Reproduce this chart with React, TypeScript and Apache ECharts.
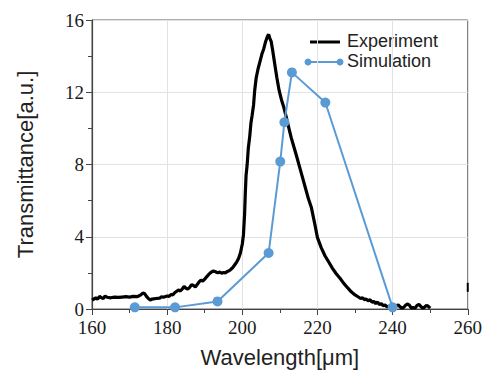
import React, { useEffect, useRef } from "react";
import * as echarts from "echarts";

const expX = [160,160.5,161,161.5,162,162.5,163,163.5,164,165,166,167,168,169,170,171,172,173,173.5,174,174.5,175,175.5,176,177,178,178.5,179,180,180.5,181,181.5,182,183,183.5,184,184.5,185,185.5,186,186.5,187,187.5,188,188.5,189,189.5,190,190.5,191,191.5,192,192.5,193,193.5,194,194.5,195,195.5,196,196.5,197,197.5,198,198.5,199,199.5,200,200.3,200.6,200.8,201,201.3,201.6,202,202.3,202.6,203,203.3,203.7,204.2,204.7,205.2,205.7,206.2,206.7,207,207.3,207.7,208.1,208.6,209.2,209.8,210.4,211,211.6,212.3,213,213.7,214.4,215.2,216,216.8,217.6,218.4,219.2,220,221,222,223,224,225,226,227,228,229,230,231,231.5,232,232.5,233,233.5,234,234.5,235,235.5,236,236.5,237,237.5,238,238.5,239,239.5,240,240.5,241,241.5,242,242.5,243,243.5,244,244.5,245,245.5,246,246.5,247,247.5,248,248.5,249,249.5,250];
const expY = [0.5,0.55,0.62,0.55,0.7,0.62,0.58,0.72,0.65,0.62,0.66,0.64,0.66,0.68,0.66,0.7,0.68,0.78,0.88,0.85,0.7,0.58,0.5,0.55,0.58,0.6,0.68,0.65,0.72,0.7,0.8,0.78,0.9,1.05,1.0,1.1,1.25,1.15,1.1,1.2,1.35,1.3,1.22,1.35,1.5,1.6,1.55,1.65,1.78,1.9,2.0,2.08,2.1,2.05,2.0,2.05,1.98,2.02,2.0,2.08,2.12,2.2,2.3,2.45,2.6,2.8,3.1,3.6,4.1,5.2,6.4,7.4,8.0,8.9,9.6,10.3,10.7,11.3,12.1,12.8,13.3,13.7,14.1,14.4,14.8,15.1,15.2,15.0,14.8,14.3,13.6,12.8,12.1,11.6,11.2,10.7,10.1,9.5,9.0,8.5,7.9,7.3,6.7,6.1,5.6,4.8,3.95,3.4,2.95,2.6,2.25,1.95,1.7,1.42,1.18,0.95,0.78,0.65,0.58,0.62,0.52,0.55,0.45,0.52,0.38,0.42,0.3,0.38,0.25,0.3,0.18,0.22,0.12,0.15,0.05,0.1,0.05,0.18,0.22,0.12,0.05,0.1,0.22,0.28,0.2,0.05,0.08,0.05,0.2,0.25,0.15,0.05,0.1,0.2,0.15,0.05];

const simX = [171.4, 182.1, 193.4, 207.0, 210.1, 211.2, 213.2, 222.1, 240.0];
const simY = [0.09, 0.09, 0.42, 3.1, 8.16, 10.34, 13.1, 11.43, 0.09];

const artifactX = [260, 260];
const artifactY = [0.95, 1.45];

const xTicks = [160, 180, 200, 220, 240, 260];
const yTicks = [0, 4, 8, 12, 16];

const legendNames = ["Experiment", "Simulation"];

const BLUE = "#5B9BD5";
const SANS = "Liberation Sans";
const SERIF = "Liberation Serif";

export default function App() {
  const ref = useRef<HTMLDivElement>(null);
  useEffect(() => {
    document.body.style.margin = "0";
    if (!ref.current) return;
    const chart = echarts.init(ref.current, undefined, { renderer: "svg" });
    const labelStyle = {
      fontFamily: SERIF,
      fontSize: 19,
      color: "#1a1a1a",
    };
    chart.setOption({
      animation: false,
      backgroundColor: "#ffffff",
      grid: {
        left: 92,
        right: 15,
        top: 20,
        bottom: 65,
        show: true,
        borderColor: "#5a5a5a",
        borderWidth: 1,
      },
      xAxis: {
        type: "value",
        min: xTicks[0],
        max: xTicks[xTicks.length - 1],
        interval: 20,
        name: "Wavelength[μm]",
        nameLocation: "middle",
        nameGap: 37,
        nameTextStyle: { fontFamily: SANS, fontSize: 22, color: "#222" },
        axisLine: { show: true, lineStyle: { color: "#444", width: 1.2 } },
        axisTick: { show: true, length: 6, lineStyle: { color: "#444" } },
        minorTick: { show: true, splitNumber: 2, length: 4, lineStyle: { color: "#444" } },
        splitLine: { show: true, lineStyle: { color: "#e2e2e2", width: 1 } },
        axisLabel: { ...labelStyle, margin: 9 },
      },
      yAxis: {
        type: "value",
        min: yTicks[0],
        max: yTicks[yTicks.length - 1],
        interval: 4,
        name: "Transmittance[a.u.]",
        nameLocation: "middle",
        nameGap: 56,
        nameTextStyle: { fontFamily: SANS, fontSize: 22, color: "#222" },
        axisLine: { show: true, lineStyle: { color: "#444", width: 1.2 } },
        axisTick: { show: true, length: 6, lineStyle: { color: "#444" } },
        minorTick: { show: true, splitNumber: 2, length: 4, lineStyle: { color: "#444" } },
        splitLine: { show: true, lineStyle: { color: "#e2e2e2", width: 1 } },
        axisLabel: { ...labelStyle, margin: 8 },
      },
      series: [
        {
          name: legendNames[0],
          type: "line",
          data: expX.map((x, i) => [x, expY[i]]),
          showSymbol: false,
          symbol: "none",
          lineStyle: { color: "#000", width: 3.2 },
          z: 2,
        },
        {
          name: legendNames[1],
          type: "line",
          data: simX.map((x, i) => [x, simY[i]]),
          symbol: "circle",
          symbolSize: 10,
          itemStyle: { color: BLUE },
          lineStyle: { color: BLUE, width: 2 },
          z: 3,
        },
        {
          name: "artifact",
          type: "line",
          data: artifactX.map((x, i) => [x, artifactY[i]]),
          symbol: "none",
          lineStyle: { color: "#000", width: 2 },
          z: 4,
        },
      ],
      graphic: [
        { type: "line", shape: { x1: 310, y1: 42, x2: 340, y2: 42 }, style: { stroke: "#000", lineWidth: 3 } },
        {
          type: "text",
          x: 347,
          y: 41,
          style: { text: legendNames[0], fontFamily: SANS, fontSize: 18, fill: "#222", verticalAlign: "middle" },
        },
        { type: "line", shape: { x1: 308, y1: 62, x2: 340, y2: 62 }, style: { stroke: BLUE, lineWidth: 2 } },
        { type: "circle", shape: { cx: 308, cy: 62, r: 3.5 }, style: { fill: BLUE } },
        { type: "circle", shape: { cx: 340, cy: 62, r: 3.5 }, style: { fill: BLUE } },
        {
          type: "text",
          x: 347,
          y: 61,
          style: { text: legendNames[1], fontFamily: SANS, fontSize: 18, fill: "#222", verticalAlign: "middle" },
        },
      ],
    });
    return () => chart.dispose();
  }, []);
  return <div ref={ref} style={{ width: 485, height: 374 }} />;
}
